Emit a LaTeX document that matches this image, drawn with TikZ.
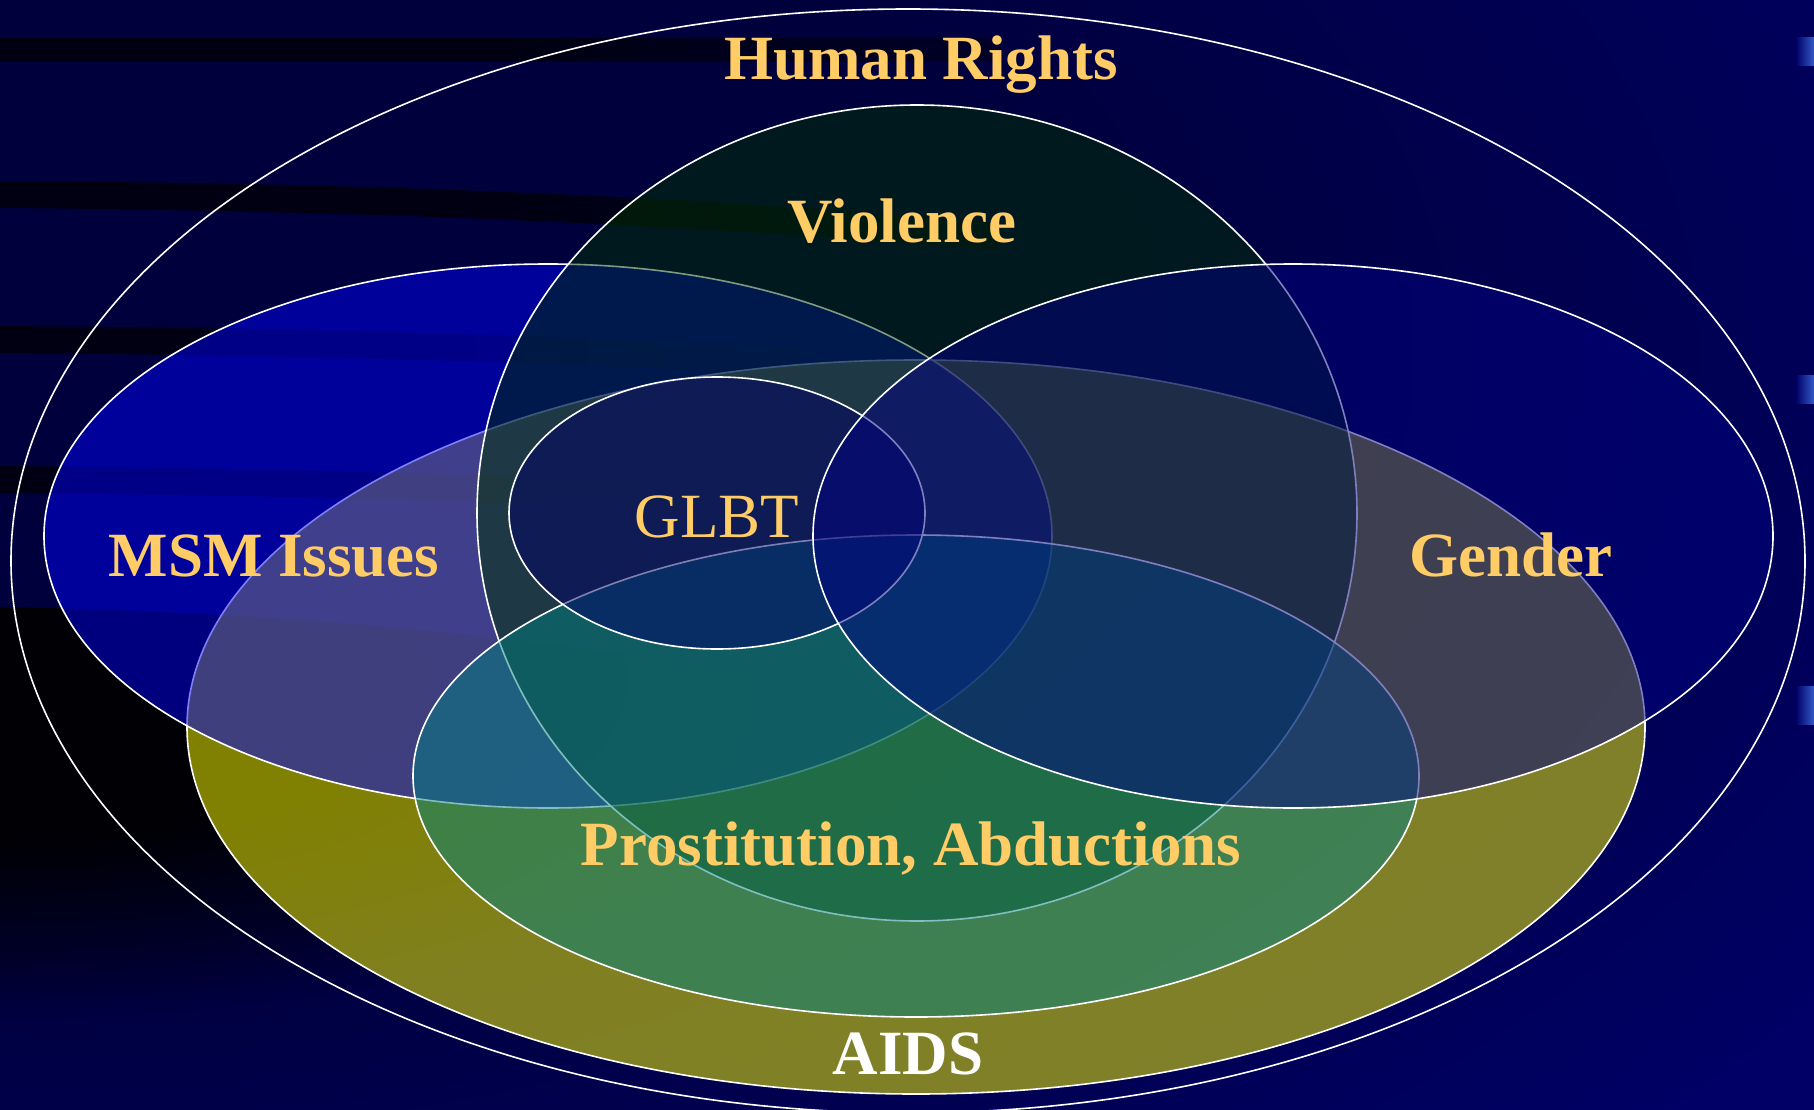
\documentclass[tikz,border=0pt]{standalone}
\usepackage{fontspec}
\setmainfont{Liberation Serif}
\usetikzlibrary{fadings}
\definecolor{bgnavy}{RGB}{0,0,102}
\definecolor{bandc}{RGB}{0,0,18}
\definecolor{aidsc}{RGB}{255,255,0}
\definecolor{msmc}{RGB}{0,0,250}
\definecolor{violc}{RGB}{0,51,0}
\definecolor{prosc}{RGB}{0,128,128}
\definecolor{glbtc}{RGB}{0,0,102}
\definecolor{gendc}{RGB}{0,0,128}
\definecolor{labelc}{RGB}{255,204,102}
\definecolor{markc}{RGB}{50,90,200}
\pgfdeclarehorizontalshading{hfs}{100bp}{rgb(0bp)=(1,1,1); rgb(50bp)=(1,1,1); rgb(100bp)=(0,0,0)}
\pgfdeclarefading{hfade}{\pgfuseshading{hfs}}
\pgfdeclareradialshading{rfs}{\pgfpoint{0bp}{0bp}}{rgb(0bp)=(1,1,1); rgb(12bp)=(1,1,1); rgb(25bp)=(0,0,0); rgb(50bp)=(0,0,0)}
\pgfdeclarefading{rfade}{\pgfuseshading{rfs}}
\begin{document}
\begin{tikzpicture}[x=1pt,y=-1pt,
  set/.style={draw=white, line width=1.6pt, fill opacity=0.5, draw opacity=1},
  lbl/.style={text=labelc, font=\fontsize{63}{70}\selectfont\bfseries, anchor=base, inner sep=0pt}]
\useasboundingbox (0,0) rectangle (1814,1110);
\begin{scope}
\clip (0,0) rectangle (1814,1110);
% background
\fill[bgnavy] (0,0) rectangle (1814,1110);
\fill[black, opacity=0.4, path fading=rfade] (0,350) ellipse [x radius=2200, y radius=1200];
% dark streaks
\fill[bandc, path fading=hfade] (0,38) rectangle (1000,62);
\fill[bandc, path fading=hfade] (0,181) .. controls (400,183) and (700,198) .. (1000,222) -- (1000,250) .. controls (700,226) and (400,211) .. (0,208) -- cycle;
\fill[bandc, path fading=hfade] (0,326) .. controls (300,328) and (550,335) .. (800,348) -- (800,375) .. controls (550,362) and (300,355) .. (0,353) -- cycle;
\fill[bandc, path fading=hfade] (0,466) .. controls (300,468) and (550,476) .. (800,490) -- (800,517) .. controls (550,503) and (300,495) .. (0,493) -- cycle;
\begin{scope}
\clip (0,607) .. controls (300,612) and (600,640) .. (900,700) -- (900,1110) -- (0,1110) -- cycle;
\fill[black, opacity=0.9, path fading=rfade] (0,680) ellipse [x radius=850, y radius=340];
\end{scope}
% marks at right edge
\shade[left color=bgnavy, right color=markc] (1796,38) rectangle (1814,66);
\shade[left color=bgnavy, right color=markc] (1796,375) rectangle (1814,403);
\shade[left color=bgnavy, right color=markc] (1796,686) rectangle (1814,724);
% sets
\draw[white, line width=1.6pt] (908,561) ellipse [x radius=897, y radius=552];
\filldraw[set, fill=aidsc] (916,727) ellipse [x radius=729, y radius=367];
\filldraw[set, fill=msmc] (548,536) ellipse [x radius=504, y radius=272];
\filldraw[set, fill=violc] (917,513) ellipse [x radius=440, y radius=408];
\filldraw[set, fill=prosc] (916,776) ellipse [x radius=503, y radius=241];
\filldraw[set, fill=glbtc] (717,513) ellipse [x radius=208, y radius=136];
\filldraw[set, fill=gendc] (1293,536) ellipse [x radius=480, y radius=272];
\end{scope}
% labels
\node[lbl] (hr) at (921,80) {Human Rights};
\node[lbl] (viol) at (902,242) {Violence};
\node[lbl] (msm) at (274,576) {MSM Issues};
\node[lbl] (gend) at (1511,576) {Gender};
\node[lbl, font=\fontsize{63}{70}\selectfont] (glbt) at (717,537) {GLBT};
\node[lbl] (pros) at (911,865) {Prostitution, Abductions};
\node[lbl, text=white] (aids) at (908,1074) {AIDS};
\end{tikzpicture}
\end{document}
